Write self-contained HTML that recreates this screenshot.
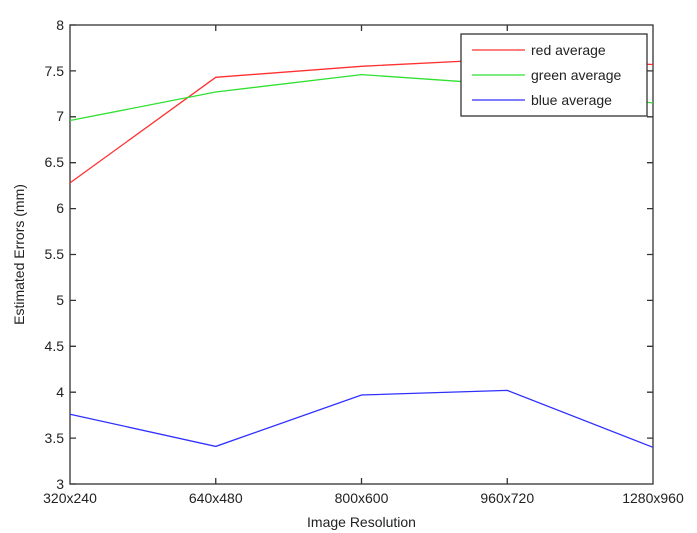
<!DOCTYPE html>
<html><head><style>body{margin:0;background:#fff}svg{display:block}</style></head><body>
<svg width="697" height="533" xmlns="http://www.w3.org/2000/svg" font-family="Liberation Sans, sans-serif" font-size="14" fill="#222">
<rect width="697" height="533" fill="#fff"/>
<g stroke="#333" stroke-width="1.3" fill="none">
<rect x="70" y="25" width="583" height="459"/>
<path d="M70 484h6M70 438.1h6M70 392.2h6M70 346.3h6M70 300.4h6M70 254.5h6M70 208.6h6M70 162.7h6M70 116.8h6M70 70.9h6M70 25h6
M653 438.1h-6M653 392.2h-6M653 346.3h-6M653 300.4h-6M653 254.5h-6M653 208.6h-6M653 162.7h-6M653 116.8h-6M653 70.9h-6
M215.75 484v-6M361.5 484v-6M507.25 484v-6M215.75 25v6M361.5 25v6M507.25 25v6"/>
</g>
<polyline fill="none" stroke="#ff3030" stroke-width="1.3" points="70,182.9 215.75,77.3 361.5,66.3 507.25,59 653,64.5"/>
<polyline fill="none" stroke="#30e030" stroke-width="1.3" points="70,120.5 215.75,92 361.5,74.6 507.25,84.7 653,103"/>
<polyline fill="none" stroke="#3030ff" stroke-width="1.3" points="70,414.2 215.75,446.4 361.5,395 507.25,390.4 653,447.3"/>
<g text-anchor="end">
<text x="64" y="489">3</text><text x="64" y="443">3.5</text><text x="64" y="397">4</text><text x="64" y="351">4.5</text><text x="64" y="305">5</text><text x="64" y="259">5.5</text><text x="64" y="213">6</text><text x="64" y="167">6.5</text><text x="64" y="121">7</text><text x="64" y="76">7.5</text><text x="64" y="30">8</text>
</g>
<g text-anchor="middle">
<text x="70" y="503">320x240</text><text x="215.75" y="503">640x480</text><text x="361.5" y="503">800x600</text><text x="507.25" y="503">960x720</text><text x="653" y="503">1280x960</text>
<text x="361.5" y="527">Image Resolution</text>
<text transform="translate(24 254.5) rotate(-90)">Estimated Errors (mm)</text>
</g>
<rect x="461" y="34" width="186" height="82" fill="#fff" stroke="#333" stroke-width="1.3"/>
<path d="M472 50h53" stroke="#ff3030" stroke-width="1.3"/>
<path d="M472 75h53" stroke="#30e030" stroke-width="1.3"/>
<path d="M472 100h53" stroke="#3030ff" stroke-width="1.3"/>
<text x="531" y="55">red average</text>
<text x="531" y="80">green average</text>
<text x="531" y="105">blue average</text>
</svg>
</body></html>
